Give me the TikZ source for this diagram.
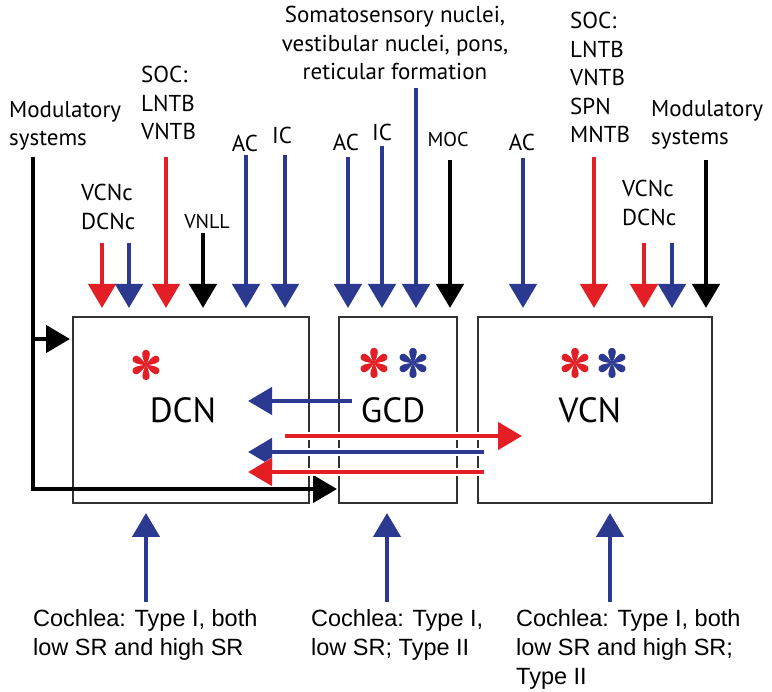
\documentclass[tikz,border=0pt]{standalone}
\usepackage{fontspec}
\setmainfont{PT Sans}
\newfontfamily\cochleafont{Liberation Sans}
\usetikzlibrary{arrows.meta}

\definecolor{nucred}{RGB}{228,30,37}
\definecolor{nucblue}{RGB}{43,57,144}
\definecolor{boxgray}{RGB}{50,50,50}

% six-petal star: x, y, colour
\newcommand{\petalstar}[3]{%
  \foreach \ang in {90,150,...,450}
    \fill[#3, shift={(#1,#2)}, rotate=\ang]
      (0,0) .. controls (4,-2.2) and (14.5,-6.8) .. (15,0)
            .. controls (14.5,6.8) and (4,2.2) .. (0,0);}

\begin{document}
\begin{tikzpicture}[x=1pt,y=-1pt,
  lbl/.style={font=\fontsize{23}{28.5}\selectfont, inner sep=0pt},
  lblblock/.style={lbl, anchor=north west, align=left},
  cochlea/.style={lblblock, font=\cochleafont\fontsize{23.5}{29}\selectfont},
  nucleus/.style={draw=boxgray, line width=2pt, inner sep=0pt, outer sep=0pt,
                  minimum height=186pt},
  nuclabel/.style={font=\fontsize{35}{38}\selectfont, inner sep=0pt},
  feed/.style={line width=4.5pt, -{Triangle[length=24pt,width=27pt]}},
  input/.style={feed, shorten >=9pt},
  cross/.style={feed, preaction={draw=white, line width=8pt}}]
  \useasboundingbox[fill=white] (0,0) rectangle (772,692);

  % Nuclei
  \node[nucleus, minimum width=236pt] (dcn) at (191,410) {};
  \node[nucleus, minimum width=118pt] (gcd) at (398,410) {};
  \node[nucleus, minimum width=234pt] (vcn) at (595,410) {};
  \node[nuclabel] (dcnl) at (183,410) {DCN};
  \node[nuclabel] (gcdl) at (393,410) {GCD};
  \node[nuclabel] (vcnl) at (590,410) {VCN};
  \petalstar{146}{365}{nucred}
  \petalstar{374}{363}{nucred}
  \petalstar{413}{363}{nucblue}
  \petalstar{575}{363}{nucred}
  \petalstar{612}{363}{nucblue}

  % Sources above
  \node[lblblock] (modl) at (9,101) {Modulatory\\systems};
  \node[lblblock] (vdl) at (81,184) {VCNc\\DCNc};
  \node[lblblock] (socl) at (141,66) {SOC:\\LNTB\\VNTB};
  \node[lbl, font=\fontsize{20}{24}\selectfont] (vnll) at (207,222) {VNLL};
  \node[lbl] (acd) at (245,143) {AC};
  \node[lbl] (icd) at (282,135) {IC};
  \node[lbl, anchor=north, align=center] (soma) at (395,6)
    {Somatosensory nuclei,\\vestibular nuclei, pons,\\reticular formation};
  \node[lbl] (acg) at (346,142) {AC};
  \node[lbl] (icg) at (382,132) {IC};
  \node[lbl, font=\fontsize{20}{24}\selectfont] (moc) at (448,140) {MOC};
  \node[lbl] (acv) at (522,142) {AC};
  \node[lblblock] (socr) at (570,12) {SOC:\\LNTB\\VNTB\\SPN\\MNTB};
  \node[lblblock] (modr) at (651,100) {Modulatory\\systems};
  \node[lblblock] (vdr) at (622,180) {VCNc\\DCNc};

  % Sources below
  \node[cochlea] (cod) at (33,609) {Cochlea: Type I, both\\low SR and high SR};
  \node[cochlea] (cog) at (311,609) {Cochlea: Type I,\\low SR; Type II};
  \node[cochlea] (cov) at (516,609) {Cochlea: Type I, both\\low SR and high SR;\\Type II};

  % Descending inputs
  \foreach \n/\x/\y/\c in {d1/102/243/nucred, d2/129/243/nucblue, d3/166/157/nucred,
                            d4/203/233/black, d5/246/155/nucblue, d6/285/155/nucblue}{
    \coordinate (\n) at (\x,\y);
    \draw[input, \c] (\n) -- (\n |- dcn.north);
  }
  \foreach \n/\x/\y/\c in {g1/348/157/nucblue, g2/382/146/nucblue, g3/416/88/nucblue,
                            g4/450/160/black}{
    \coordinate (\n) at (\x,\y);
    \draw[input, \c] (\n) -- (\n |- gcd.north);
  }
  \foreach \n/\x/\y/\c in {v1/523/158/nucblue, v2/594/157/nucred, v3/644/243/nucred,
                            v4/672/243/nucblue, v5/706/160/black}{
    \coordinate (\n) at (\x,\y);
    \draw[input, \c] (\n) -- (\n |- vcn.north);
  }

  % Cochlear inputs
  \foreach \n/\x/\t in {c1/146/dcn, c2/387/gcd, c3/610/vcn}{
    \coordinate (\n) at (\x,602);
    \draw[feed, nucblue, shorten >=10pt] (\n) -- (\n |- \t.south);
  }

  % Modulatory systems, left
  \coordinate (m0) at (33,157);
  \coordinate (m1) at (33,489);
  \coordinate (m2) at (33,339);
  \draw[feed, shorten >=2pt] (m0) -- (m1) -- (m1 -| gcd.west);
  \draw[feed, shorten >=3pt] (m2) -- (m2 -| dcn.west);

  % Connections between nuclei
  \coordinate (h1) at (352,401);
  \coordinate (h2) at (285,436);
  \coordinate (h3) at (484,452);
  \coordinate (h4) at (484,472);
  \draw[feed, nucblue] (h1) -- ++(-104,0);
  \draw[cross, nucred] (h2) -- ++(237,0);
  \draw[cross, nucblue] (h3) -- ++(-236,0);
  \draw[cross, nucred] (h4) -- ++(-236,0);
\end{tikzpicture}
\end{document}
